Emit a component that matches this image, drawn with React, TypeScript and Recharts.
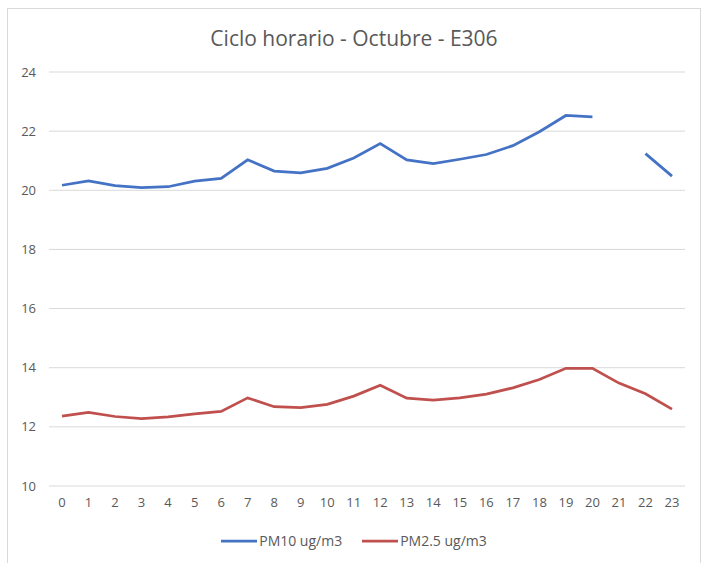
import React from 'react';
import { LineChart, Line, XAxis, YAxis, CartesianGrid } from 'recharts';

const hours = ['0','1','2','3','4','5','6','7','8','9','10','11','12','13','14','15','16','17','18','19','20','21','22','23'];
const pm10: (number | null)[] = [20.17, 20.32, 20.16, 20.09, 20.12, 20.31, 20.4, 21.03, 20.65, 20.59, 20.74, 21.09, 21.58, 21.03, 20.9, 21.05, 21.21, 21.51, 21.98, 22.53, 22.48, null, 21.24, 20.48];
const pm25: number[] = [12.36, 12.49, 12.35, 12.28, 12.34, 12.44, 12.52, 12.98, 12.68, 12.65, 12.76, 13.04, 13.41, 12.97, 12.9, 12.98, 13.11, 13.32, 13.6, 13.98, 13.98, 13.48, 13.12, 12.6];
const yTicks = [10, 12, 14, 16, 18, 20, 22, 24];
const seriesNames = ['PM10 ug/m3', 'PM2.5 ug/m3'];

const data = hours.map((h, i) => ({ hour: h, pm10: pm10[i], pm25: pm25[i] }));

const FONT = '"Open Sans", sans-serif';
const TEXT = '#595959';
const BLUE = '#4472C4';
const RED = '#C0504D';

const LegendContent = () => (
  <div style={{ display: 'flex', justifyContent: 'center', alignItems: 'center', fontFamily: FONT, fontSize: 14, color: TEXT, width: 708 }}>
    {[BLUE, RED].map((c, i) => (
      <div key={i} style={{ display: 'flex', alignItems: 'center', marginRight: i === 0 ? 20 : 0 }}>
        <svg width={36} height={6} style={{ marginRight: 2 }}>
          <line x1={0} y1={3} x2={36} y2={3} stroke={c} strokeWidth={2.75} />
        </svg>
        <span>{seriesNames[i]}</span>
      </div>
    ))}
  </div>
);

export default function App() {
  return (
    <div style={{ position: 'absolute', left: 0, top: 0, width: 708, height: 563, background: '#fff', overflow: 'hidden' }}>
      <div style={{ position: 'absolute', left: 7, top: 8, width: 694, height: 570, border: '1px solid #d9d9d9', boxSizing: 'border-box' }} />
      <div style={{ position: 'absolute', left: 0, top: 24, width: 708, textAlign: 'center', fontFamily: FONT, fontSize: 21, color: TEXT }}>
        Ciclo horario - Octubre - E306
      </div>
      <div style={{ position: 'absolute', left: 0, top: 0 }}>
        <LineChart width={708} height={563} data={data} margin={{ top: 72, right: 23, bottom: 47, left: 0 }}>
          <CartesianGrid vertical={false} stroke="#d9d9d9" strokeWidth={1} />
          <XAxis
            dataKey="hour"
            axisLine={false}
            tickLine={false}
            tickMargin={6}
            interval={0}
            padding={{ left: 13, right: 13 }}
            tick={{ fontFamily: FONT, fontSize: 13, fill: TEXT }}
          />
          <YAxis
            domain={[10, 24]}
            ticks={yTicks}
            width={49}
            axisLine={false}
            tickLine={false}
            tickMargin={7}
            tick={{ fontFamily: FONT, fontSize: 13, fill: TEXT }}
          />
          <Line type="linear" dataKey="pm10" name={seriesNames[0]} stroke={BLUE} strokeWidth={2.75} dot={false} isAnimationActive={false} connectNulls={false} />
          <Line type="linear" dataKey="pm25" name={seriesNames[1]} stroke={RED} strokeWidth={2.75} dot={false} isAnimationActive={false} />
        </LineChart>
      </div>
      <div style={{ position: 'absolute', left: 0, top: 531 }}>
        <LegendContent />
      </div>
    </div>
  );
}
